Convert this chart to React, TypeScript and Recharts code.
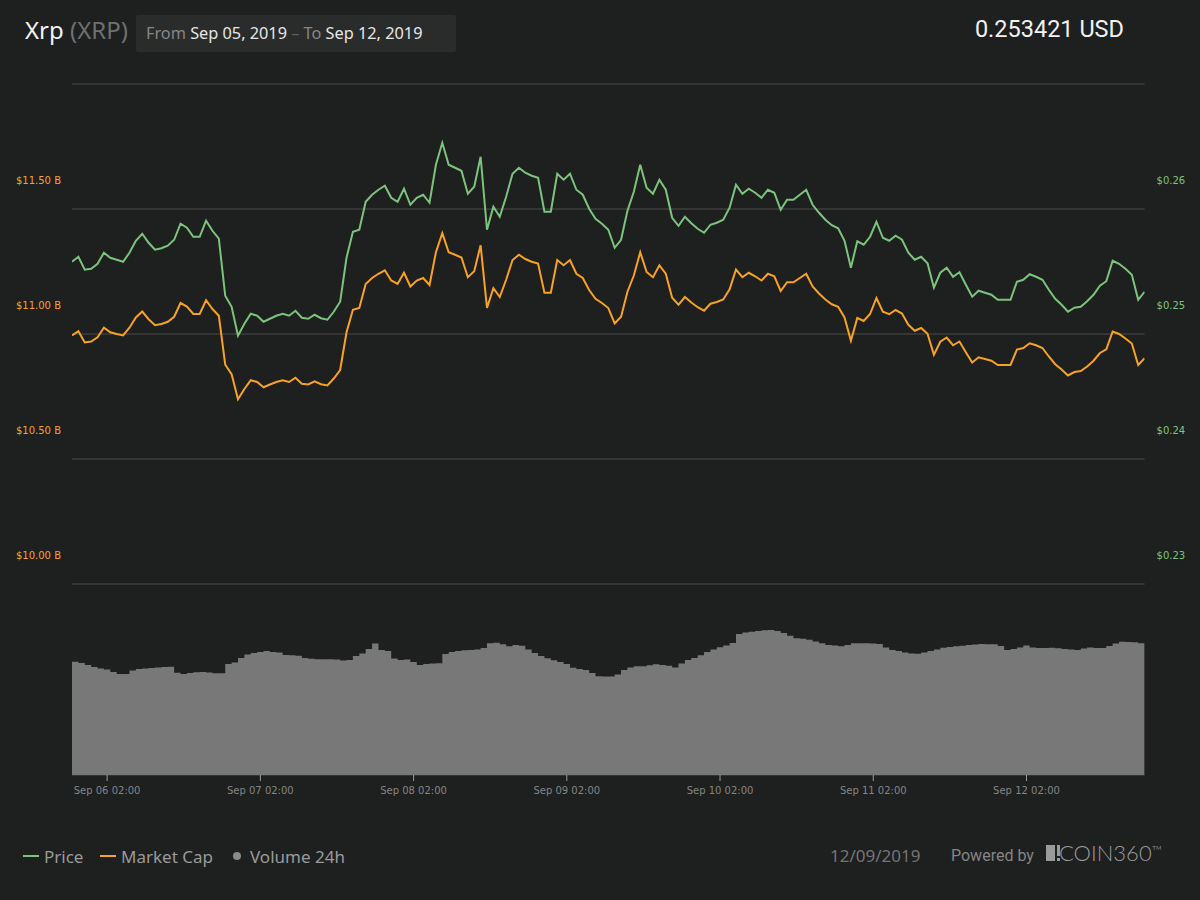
import React from "react";
import { ComposedChart, Line, Area, XAxis, YAxis, CartesianGrid } from "recharts";

const BG = "#1e1f1f";
const GREEN = "#7cc47c";
const ORANGE = "#f7a31f";
const GRID = "#4d4d4d";
const VOLUME = "#787878";

// hourly samples, hours counted from Sep 05 00:00 (first point Sep 05 20:30)
const START_HOUR = 20.5;

const price = [
  0.25578, 0.25618, 0.25514, 0.25522, 0.25562, 0.2565, 0.2561, 0.25594, 0.25578, 0.2565,
  0.25746, 0.25802, 0.2573, 0.25674, 0.25686, 0.25706, 0.25754, 0.25882, 0.2585, 0.25778,
  0.25778, 0.25906, 0.25826, 0.25762, 0.25306, 0.25218, 0.24986, 0.25082, 0.25162, 0.25146,
  0.25098, 0.25122, 0.25146, 0.25162, 0.25146, 0.25186, 0.2513, 0.25122, 0.25154, 0.25126,
  0.25114, 0.25178, 0.25258, 0.2561, 0.25818, 0.25834, 0.26058, 0.26114, 0.26154, 0.26186,
  0.2609, 0.26058, 0.26162, 0.26034, 0.2609, 0.26114, 0.2605, 0.26354, 0.2653, 0.26354,
  0.2633, 0.26306, 0.26122, 0.26178, 0.26418, 0.25834, 0.26018, 0.25938, 0.26098, 0.26282,
  0.2633, 0.2629, 0.26266, 0.2625, 0.25978, 0.25978, 0.26282, 0.26234, 0.26282, 0.26154,
  0.26114, 0.26002, 0.25922, 0.25882, 0.25834, 0.2569, 0.25754, 0.25986, 0.26138, 0.26354,
  0.2617, 0.26122, 0.26234, 0.26154, 0.2593, 0.25866, 0.25938, 0.25886, 0.25842, 0.2581,
  0.25874, 0.2589, 0.25914, 0.2601, 0.26194, 0.26122, 0.26162, 0.2613, 0.2609, 0.26154,
  0.2613, 0.25994, 0.26074, 0.26074, 0.26114, 0.26154, 0.26034, 0.2597, 0.25914, 0.2587,
  0.25846, 0.25746, 0.2553, 0.25742, 0.25714, 0.25778, 0.25898, 0.2577, 0.25746, 0.25786,
  0.25754, 0.2565, 0.25594, 0.25618, 0.25566, 0.2537, 0.2549, 0.2553, 0.25458, 0.25494,
  0.25394, 0.25298, 0.25346, 0.2533, 0.25314, 0.25274, 0.25274, 0.25274, 0.25418, 0.25434,
  0.25478, 0.25458, 0.25434, 0.25354, 0.25282, 0.25234, 0.25178, 0.2521, 0.25218, 0.25262,
  0.25314, 0.25386, 0.25422, 0.25586, 0.25562, 0.25522, 0.25474, 0.25274, 0.25338,
];

// billions USD
const marketCap = [
  10.994, 11.011, 10.966, 10.97, 10.987, 11.025, 11.007, 11.0, 10.994, 11.025,
  11.066, 11.09, 11.059, 11.035, 11.04, 11.049, 11.069, 11.124, 11.11, 11.08,
  11.08, 11.135, 11.1, 11.073, 10.877, 10.839, 10.739, 10.78, 10.815, 10.808,
  10.787, 10.798, 10.808, 10.815, 10.808, 10.825, 10.801, 10.798, 10.811, 10.799,
  10.794, 10.822, 10.856, 11.007, 11.097, 11.104, 11.2, 11.224, 11.241, 11.255,
  11.214, 11.2, 11.245, 11.19, 11.214, 11.224, 11.196, 11.327, 11.403, 11.327,
  11.317, 11.306, 11.227, 11.251, 11.355, 11.104, 11.183, 11.148, 11.217, 11.296,
  11.317, 11.3, 11.289, 11.282, 11.165, 11.165, 11.296, 11.275, 11.296, 11.241,
  11.224, 11.176, 11.141, 11.124, 11.104, 11.042, 11.069, 11.169, 11.234, 11.327,
  11.248, 11.227, 11.275, 11.241, 11.145, 11.117, 11.148, 11.126, 11.107, 11.093,
  11.121, 11.128, 11.138, 11.179, 11.258, 11.227, 11.245, 11.231, 11.214, 11.241,
  11.231, 11.172, 11.207, 11.207, 11.224, 11.241, 11.19, 11.162, 11.138, 11.119,
  11.109, 11.066, 10.973, 11.064, 11.052, 11.08, 11.144, 11.089, 11.079, 11.096,
  11.082, 11.037, 11.013, 11.024, 11.001, 10.917, 10.969, 10.986, 10.955, 10.97,
  10.927, 10.886, 10.907, 10.9, 10.893, 10.876, 10.876, 10.876, 10.938, 10.944,
  10.963, 10.955, 10.944, 10.91, 10.879, 10.858, 10.834, 10.848, 10.852, 10.87,
  10.893, 10.924, 10.939, 11.01, 11.0, 10.982, 10.962, 10.876, 10.903,
];

// 24h volume, billions USD
const volume = [
  1.133, 1.12, 1.1, 1.08, 1.065, 1.055, 1.03, 1.01, 1.01, 1.045,
  1.06, 1.065, 1.07, 1.075, 1.08, 1.083, 1.023, 1.01, 1.02, 1.027,
  1.03, 1.025, 1.017, 1.017, 1.11, 1.125, 1.17, 1.205, 1.22, 1.23,
  1.24, 1.23, 1.225, 1.2, 1.197, 1.193, 1.17, 1.162, 1.158, 1.157,
  1.157, 1.155, 1.145, 1.15, 1.19, 1.215, 1.26, 1.315, 1.25, 1.24,
  1.165, 1.15, 1.155, 1.13, 1.1, 1.11, 1.115, 1.117, 1.21, 1.23,
  1.24, 1.247, 1.25, 1.255, 1.27, 1.317, 1.323, 1.307, 1.287, 1.3,
  1.293, 1.255, 1.22, 1.19, 1.167, 1.147, 1.13, 1.11, 1.072, 1.06,
  1.05, 1.02, 0.988, 0.985, 0.985, 1.005, 1.05, 1.075, 1.088, 1.087,
  1.097, 1.107, 1.1, 1.092, 1.075, 1.115, 1.15, 1.17, 1.198, 1.23,
  1.255, 1.277, 1.295, 1.32, 1.41, 1.425, 1.433, 1.44, 1.447, 1.45,
  1.44, 1.42, 1.392, 1.367, 1.363, 1.352, 1.335, 1.317, 1.3, 1.295,
  1.287, 1.3, 1.317, 1.317, 1.317, 1.315, 1.31, 1.275, 1.25, 1.24,
  1.225, 1.215, 1.213, 1.225, 1.24, 1.255, 1.272, 1.28, 1.287, 1.292,
  1.3, 1.305, 1.31, 1.308, 1.307, 1.29, 1.25, 1.26, 1.275, 1.295,
  1.275, 1.27, 1.27, 1.273, 1.267, 1.26, 1.255, 1.25, 1.265, 1.275,
  1.27, 1.27, 1.29, 1.315, 1.333, 1.33, 1.327, 1.317, 1.293,
];

const xTicks = [26, 50, 74, 98, 122, 146, 170];
const xTickLabels = [
  "Sep 06 02:00",
  "Sep 07 02:00",
  "Sep 08 02:00",
  "Sep 09 02:00",
  "Sep 10 02:00",
  "Sep 11 02:00",
  "Sep 12 02:00",
];
const capTicks = [10, 10.5, 11, 11.5, 12];
const priceTicks = [0.23, 0.24, 0.25, 0.26, 0.27];

const data = price.map((p, i) => ({
  t: START_HOUR + i,
  price: p,
  cap: marketCap[i],
  volume: volume[i],
}));

// labels sit above their grid line, the top line has none
function CapTick(props: any) {
  const { x, y, payload } = props;
  if (payload.value >= 12) return <g />;
  return (
    <text x={x} y={y - 25} textAnchor="end" fill={ORANGE} fontSize={10} fontFamily="DejaVu Sans">
      {"$" + payload.value.toFixed(2) + " B"}
    </text>
  );
}

function PriceTick(props: any) {
  const { x, y, payload } = props;
  if (payload.value >= 0.27) return <g />;
  return (
    <text x={x} y={y - 25} textAnchor="start" fill={GREEN} fontSize={10} fontFamily="DejaVu Sans">
      {"$" + payload.value.toFixed(2)}
    </text>
  );
}

const abs = (left: number, top: number, extra: React.CSSProperties = {}): React.CSSProperties => ({
  position: "absolute",
  left,
  top,
  whiteSpace: "nowrap",
  ...extra,
});

export default function App() {
  return (
    <div
      style={{
        position: "absolute",
        left: 0,
        top: 0,
        width: 1200,
        height: 900,
        background: BG,
        overflow: "hidden",
        fontFamily: '"Noto Sans", sans-serif',
      }}
    >
      {/* header */}
      <div style={abs(25, 15, { fontSize: 24, lineHeight: "30px", color: "#f2f2f2" })}>
        Xrp <span style={{ color: "#707070" }}>(XRP)</span>
      </div>
      <div
        style={abs(136, 15, {
          width: 320,
          height: 37,
          background: "#2a2b2b",
          borderRadius: 2,
          fontSize: 16.3,
          lineHeight: "37px",
          paddingLeft: 10,
          boxSizing: "border-box",
          color: "#e6e6e6",
        })}
      >
        <span style={{ color: "#868686" }}>From </span>Sep 05, 2019
        <span style={{ color: "#606060" }}> – </span>
        <span style={{ color: "#868686" }}>To </span>Sep 12, 2019
      </div>
      <div
        style={{
          position: "absolute",
          right: 76,
          top: 14,
          fontSize: 23.5,
          lineHeight: "30px",
          color: "#f2f2f2",
          fontFamily: "Roboto",
        }}
      >
        0.253421 USD
      </div>

      <div style={{ position: "absolute", left: 0, top: 0 }}>
        <ComposedChart width={1200} height={800} data={data} margin={{ top: 84, right: 0, bottom: 0, left: 0 }}>
          <CartesianGrid yAxisId="cap" vertical={false} stroke={GRID} />
          <XAxis
            dataKey="t"
            type="number"
            domain={[20.5, 188.5]}
            ticks={xTicks}
            tickFormatter={(v: number) => xTickLabels[xTicks.indexOf(v)]}
            interval={0}
            height={25}
            axisLine={false}
            tickLine={{ stroke: "#9a9a9a" }}
            tickSize={6}
            tickMargin={6}
            tick={{ fill: "#858585", fontSize: 10, fontFamily: "DejaVu Sans" }}
            allowDataOverflow
          />
          <YAxis
            yAxisId="cap"
            orientation="left"
            width={72}
            domain={[9.236, 12]}
            ticks={capTicks}
            interval={0}
            axisLine={false}
            tickLine={false}
            tickSize={0}
            tickMargin={11}
            tick={<CapTick />}
            allowDataOverflow
          />
          <YAxis
            yAxisId="price"
            orientation="right"
            width={55.4}
            domain={[0.21472, 0.27]}
            ticks={priceTicks}
            interval={0}
            axisLine={false}
            tickLine={false}
            tickSize={0}
            tickMargin={12}
            tick={<PriceTick />}
            allowDataOverflow
          />
          <YAxis yAxisId="vol" hide domain={[0, 6.91]} />
          <Area
            yAxisId="vol"
            dataKey="volume"
            type="stepAfter"
            fill={VOLUME}
            fillOpacity={1}
            stroke="none"
            dot={false}
            activeDot={false}
            isAnimationActive={false}
          />
          <Line
            yAxisId="cap"
            dataKey="cap"
            type="linear"
            stroke={ORANGE}
            strokeWidth={2}
            dot={false}
            activeDot={false}
            isAnimationActive={false}
          />
          <Line
            yAxisId="price"
            dataKey="price"
            type="linear"
            stroke={GREEN}
            strokeWidth={2}
            dot={false}
            activeDot={false}
            isAnimationActive={false}
          />
        </ComposedChart>
      </div>

      {/* legend */}
      <div style={abs(23, 846, { height: 20, display: "flex", alignItems: "center", fontSize: 17, color: "#9a9a9a" })}>
        <span style={{ width: 16, height: 2, background: GREEN, marginRight: 5 }} />
        Price
      </div>
      <div style={abs(100, 846, { height: 20, display: "flex", alignItems: "center", fontSize: 17, color: "#9a9a9a" })}>
        <span style={{ width: 16, height: 2, background: ORANGE, marginRight: 5 }} />
        Market Cap
      </div>
      <div style={abs(233, 846, { height: 20, display: "flex", alignItems: "center", fontSize: 17, color: "#9a9a9a" })}>
        <span style={{ width: 8, height: 8, borderRadius: 4, background: "#8a8a8a", marginRight: 9 }} />
        Volume 24h
      </div>

      {/* footer */}
      <div style={abs(830, 846, { fontSize: 17, lineHeight: "20px", color: "#757575" })}>12/09/2019</div>
      <div style={abs(951, 846, { fontSize: 16, lineHeight: "20px", color: "#858585", fontFamily: "Roboto" })}>
        Powered by
      </div>
      <div style={abs(1046, 845, { width: 9, height: 16, background: "#9a9a9a" })} />
      <div style={abs(1056.5, 845, { width: 3.5, height: 11, background: "#9a9a9a" })} />
      <div style={abs(1056.5, 857.5, { width: 3.5, height: 3.5, background: "#9a9a9a" })} />
      <div style={abs(1059, 840, { fontSize: 22, lineHeight: "26px", color: "#9a9a9a", fontFamily: "Lato", fontWeight: 300 })}>
        COIN360
        <span style={{ fontSize: 14, verticalAlign: "top", position: "relative", top: -2 }}>™</span>
      </div>
    </div>
  );
}
